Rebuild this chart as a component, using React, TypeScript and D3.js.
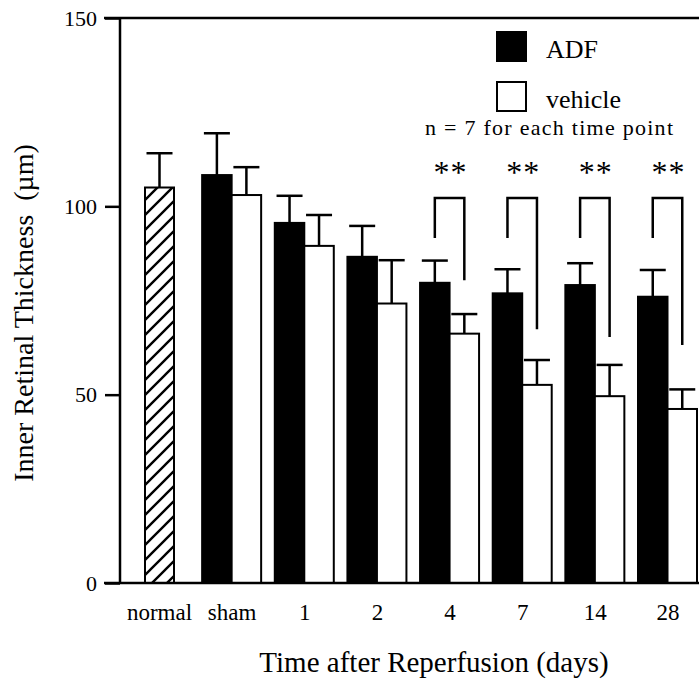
import React, { useRef, useEffect } from 'react';
import * as d3 from 'd3';

// Categories along the x axis
const categories = ['normal', 'sham', '1', '2', '4', '7', '14', '28'];

// Normal (hatched) bar
const normalMean = 105.0;
const normalErr = 114.1;

// ADF (black) and vehicle (white) means and upper error ends, for sham..28
const groups = ['sham', '1', '2', '4', '7', '14', '28'];
const adfMeans = [108.3, 95.6, 86.6, 79.7, 76.9, 79.1, 76.0];
const adfErrTop = [119.4, 102.8, 94.8, 85.6, 83.3, 84.9, 83.1];
const vehicleMeans = [103.0, 89.5, 74.2, 66.2, 52.6, 49.6, 46.2];
const vehicleErrTop = [110.4, 97.7, 85.7, 71.4, 59.2, 57.9, 51.4];

// Significance brackets (** p) for days 4, 7, 14, 28
const sigGroups = ['4', '7', '14', '28'];
const bracketTop = 102.2;
const bracketLeftEnd = 91.6;
const bracketRightEnd = [80.4, 67.4, 65.3, 63.2];

const yTicks = [0, 50, 100, 150];

const FONT = "'Liberation Serif', 'Times New Roman', serif";

const App = () => {
  const svgRef = useRef<SVGSVGElement>(null);

  useEffect(() => {
    const svg = d3.select(svgRef.current);
    svg.selectAll('*').remove();

    const W = 699;
    const H = 687;
    const axisX = 120;

    const y = d3.scaleLinear().domain([0, 150]).range([583, 18]);
    const x = d3.scalePoint<string>().domain(categories).range([159.5, 668]);

    // sub-positions for the pair of bars
    const sub = d3.scaleBand<string>().domain(['ADF', 'vehicle']).range([-30, 29]).padding(0);

    svg.append('rect').attr('width', W).attr('height', H).attr('fill', 'white');

    // Hatch pattern for normal bar
    const defs = svg.append('defs');
    const pat = defs.append('pattern')
      .attr('id', 'hatch')
      .attr('patternUnits', 'userSpaceOnUse')
      .attr('width', 15)
      .attr('height', 15);
    pat.append('rect').attr('width', 15).attr('height', 15).attr('fill', 'white');
    pat.append('path')
      .attr('d', 'M-2,17 L17,-2 M-2,2 L2,-2 M13,17 L17,13')
      .attr('stroke', 'black')
      .attr('stroke-width', 2.4);

    const g = svg.append('g');

    // Normal bar
    const nx = x('normal')! - 14.5;
    g.append('line')
      .attr('x1', x('normal')!).attr('x2', x('normal')!)
      .attr('y1', y(normalMean)).attr('y2', y(normalErr))
      .attr('stroke', 'black').attr('stroke-width', 2.5);
    g.append('line')
      .attr('x1', x('normal')! - 13).attr('x2', x('normal')! + 13)
      .attr('y1', y(normalErr)).attr('y2', y(normalErr))
      .attr('stroke', 'black').attr('stroke-width', 2.5);
    g.append('rect')
      .attr('x', nx).attr('y', y(normalMean))
      .attr('width', 29).attr('height', y(0) - y(normalMean))
      .attr('fill', 'url(#hatch)')
      .attr('stroke', 'black').attr('stroke-width', 2);

    const rows = groups.map((k, i) => ({
      key: k,
      bars: [
        { s: 'ADF', mean: adfMeans[i], err: adfErrTop[i] },
        { s: 'vehicle', mean: vehicleMeans[i], err: vehicleErrTop[i] }
      ]
    }));

    const grp = g.selectAll('.grp')
      .data(rows)
      .enter()
      .append('g')
      .attr('class', 'grp')
      .attr('transform', d => `translate(${x(d.key)},0)`);

    const bar = grp.selectAll('.bar')
      .data(d => d.bars)
      .enter()
      .append('g');

    // error bars (upper only)
    bar.append('line')
      .attr('x1', d => sub(d.s)! + sub.bandwidth() / 2)
      .attr('x2', d => sub(d.s)! + sub.bandwidth() / 2)
      .attr('y1', d => y(d.mean))
      .attr('y2', d => y(d.err))
      .attr('stroke', 'black').attr('stroke-width', 2.5);
    bar.append('line')
      .attr('x1', d => sub(d.s)! + sub.bandwidth() / 2 - 13)
      .attr('x2', d => sub(d.s)! + sub.bandwidth() / 2 + 13)
      .attr('y1', d => y(d.err))
      .attr('y2', d => y(d.err))
      .attr('stroke', 'black').attr('stroke-width', 2.5);

    bar.append('rect')
      .attr('x', d => sub(d.s)!)
      .attr('y', d => y(d.mean))
      .attr('width', sub.bandwidth())
      .attr('height', d => y(0) - y(d.mean))
      .attr('fill', d => (d.s === 'ADF' ? 'black' : 'white'))
      .attr('stroke', 'black')
      .attr('stroke-width', 2);

    // Significance brackets
    sigGroups.forEach((k, i) => {
      const cx = x(k)!;
      const lx = cx + sub('ADF')! + sub.bandwidth() / 2;
      const rx = cx + sub('vehicle')! + sub.bandwidth() / 2;
      g.append('path')
        .attr('d', `M${lx},${y(bracketLeftEnd)} L${lx},${y(bracketTop)} L${rx},${y(bracketTop)} L${rx},${y(bracketRightEnd[i])}`)
        .attr('fill', 'none')
        .attr('stroke', 'black')
        .attr('stroke-width', 2.5);
      g.append('text')
        .attr('x', (lx + rx) / 2 + 1)
        .attr('y', 183)
        .attr('text-anchor', 'middle')
        .style('font-family', FONT)
        .style('font-size', '32px')
        .style('letter-spacing', '1px')
        .text('**');
    });

    // Axes
    g.append('line')
      .attr('x1', axisX).attr('x2', axisX)
      .attr('y1', y(150)).attr('y2', y(0))
      .attr('stroke', 'black').attr('stroke-width', 2.5);
    g.append('line')
      .attr('x1', 104).attr('x2', W)
      .attr('y1', y(0)).attr('y2', y(0))
      .attr('stroke', 'black').attr('stroke-width', 2.5);
    g.append('line')
      .attr('x1', 104).attr('x2', W)
      .attr('y1', y(150)).attr('y2', y(150))
      .attr('stroke', 'black').attr('stroke-width', 2.5);

    const yAxis = d3.axisLeft(y).tickValues(yTicks).tickSize(15).tickPadding(8);
    const ya = g.append('g')
      .attr('transform', `translate(${axisX},0)`)
      .call(yAxis);
    ya.attr('font-family', null);
    ya.select('.domain').remove();
    ya.selectAll('line').attr('stroke', 'black').attr('stroke-width', 2.5);
    ya.selectAll('text')
      .style('font-family', FONT)
      .style('font-size', '22px')
      .attr('fill', 'black');

    // Category labels
    g.selectAll('.cat')
      .data(categories)
      .enter()
      .append('text')
      .attr('x', d => x(d)!)
      .attr('y', 620)
      .attr('text-anchor', 'middle')
      .style('font-family', FONT)
      .style('font-size', '23px')
      .text(d => d);

    // Axis titles
    g.append('text')
      .attr('x', 434)
      .attr('y', 672)
      .attr('text-anchor', 'middle')
      .style('font-family', FONT)
      .style('font-size', '29px')
      .text('Time after Reperfusion (days)');

    g.append('text')
      .attr('transform', 'translate(33,313) rotate(-90)')
      .attr('text-anchor', 'middle')
      .style('font-family', FONT)
      .style('font-size', '28px')
      .style('white-space', 'pre')
      .text('Inner Retinal Thickness  (\u00b5m)');

    // Legend
    const legendData = [
      { label: 'ADF', fill: 'black', y: 32 },
      { label: 'vehicle', fill: 'white', y: 82 }
    ];
    const lg = g.selectAll('.legend')
      .data(legendData)
      .enter()
      .append('g')
      .attr('transform', d => `translate(497,${d.y})`);
    lg.append('rect')
      .attr('width', 29).attr('height', 29)
      .attr('fill', d => d.fill)
      .attr('stroke', 'black').attr('stroke-width', 2);
    lg.append('text')
      .attr('x', 49)
      .attr('y', 26)
      .style('font-family', FONT)
      .style('font-size', '26px')
      .text(d => d.label);

    g.append('text')
      .attr('x', 425)
      .attr('y', 135)
      .attr('textLength', 248)
      .attr('lengthAdjust', 'spacing')
      .style('font-family', FONT)
      .style('font-size', '22px')
      .text('n = 7 for each time point');
  }, []);

  return (
    <svg
      ref={svgRef}
      width={699}
      height={687}
      style={{ position: 'absolute', left: 0, top: 0, display: 'block' }}
    />
  );
};

export default App;
